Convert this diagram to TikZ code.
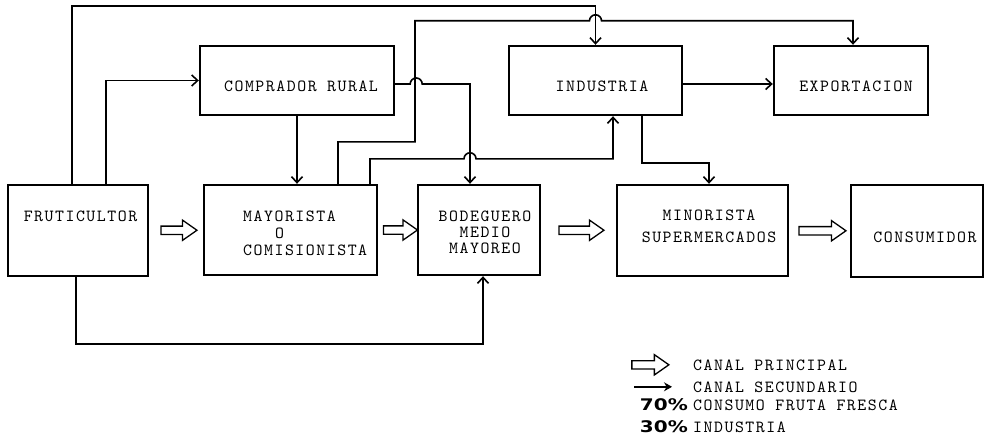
\documentclass[tikz,border=0pt]{standalone}
\usepackage{fontspec}
\newfontfamily\pctfont[FakeStretch=1.25]{DejaVu Sans}
\newfontfamily\typew[LetterSpace=9]{lmmono10-regular.otf}
\usepackage{tikz}
\usetikzlibrary{positioning,calc,arrows.meta,shapes.arrows}

\tikzset{
  box/.style={draw, line width=2.4pt, inner sep=0pt},
  txt/.style={font=\fontsize{17}{17}\selectfont\typew, inner sep=0pt},
  sec/.style={line width=1.6pt, -{Straight Barb[length=6pt,width=11pt]}},
  fat/.style={single arrow, draw, line width=1.3pt, inner sep=3.5pt, minimum height=36pt,
    single arrow head extend=6pt, single arrow tip angle=70, single arrow head indent=0pt},
  pct/.style={font=\fontsize{16}{16}\selectfont\pctfont\bfseries, inner sep=0pt},
}

\begin{document}
\begin{tikzpicture}[x=1pt,y=-1pt]
  \useasboundingbox (0,0) rectangle (991,436);
  \def\hb{91}

  % boxes, lower row
  \node[box, minimum width=140, minimum height=\hb] (fru) at (78,230.5) {};
  \node[box, minimum width=173, minimum height=90] (may) at (290.5,230) {};
  \node[box, minimum width=122, minimum height=90] (bod) at (479,230) {};
  \node[box, minimum width=171, minimum height=\hb] (min) at (702.5,230.5) {};
  \node[box, minimum width=132, minimum height=92] (con) at (917,231) {};
  % boxes, upper row
  \node[box, minimum width=194, minimum height=69] (com) at (297,80.5) {};
  \node[box, minimum width=173, minimum height=69] (ind) at (595.5,80.5) {};
  \node[box, minimum width=154, minimum height=69] (exp) at (851,80.5) {};

  % texts (base = last line)
  \node[txt, anchor=base] (frut) at ([xshift=2.5pt,yshift=9.5pt]fru.center) {FRUTICULTOR};
  \node[txt, anchor=base west, align=left] (mayt) at ([xshift=-47.5pt,yshift=-25pt]may.center)
    {MAYORISTA\\\hspace*{32pt}O\\COMISIONISTA};
  \node[txt, anchor=base, align=center] (bodt) at ([xshift=6pt,yshift=-23pt]bod.center)
    {BODEGUERO\\[-1pt]MEDIO\\[-1pt]MAYOREO};
  \node[txt, anchor=base, align=center] (mint) at ([xshift=6.5pt,yshift=-11.5pt]min.center)
    {MINORISTA\\[5pt]SUPERMERCADOS};
  \node[txt, anchor=base] (cont) at ([xshift=8pt,yshift=-11pt]con.center) {CONSUMIDOR};
  \node[txt, anchor=base] (comt) at ([xshift=4pt,yshift=-11.5pt]com.center) {COMPRADOR RURAL};
  \node[txt, anchor=base] (indt) at ([xshift=6.5pt,yshift=-11.5pt]ind.center) {INDUSTRIA};
  \node[txt, anchor=base] (expt) at ([xshift=5pt,yshift=-11.5pt]exp.center) {EXPORTACION};

  % main channel
  \node[fat] (f1) at ($(fru.east)!0.5!(may.west)$) {};
  \node[fat, minimum height=34pt] (f2) at ($(may.east)!0.5!(bod.west)$) {};
  \node[fat, minimum height=45pt] (f3) at ($(bod.east)!0.5!(min.west)$) {};
  \node[fat, minimum height=47pt] (f4) at ($(min.east)!0.5!(con.west)$) {};

  % secondary channel
  \draw[sec] ([xshift=-6pt]fru.north) -- ++(0,-178) -| (ind.north);
  \draw[sec] ([xshift=28pt]fru.north) |- (com.west);
  \draw[sec] (com.south) -- (com.south |- may.north);
  \draw[sec] ([yshift=-3.5pt]com.east) -- ++(15,0) arc (180:360:6) -| ([xshift=-9pt]bod.north);
  \draw[sec] ([xshift=47.5pt]may.north) -- ++(0,-42) -- ++(77,0) -- ++(0,-121)
    -- ($(ind.north)+(-6,-24)$) arc (180:360:6) -| ([xshift=2pt]exp.north);
  \draw[sec] ([xshift=79.5pt]may.north) -- ++(0,-25)
    -- ($(bod.north)+(-15,-25)$) arc (180:360:6) -| ([xshift=17.5pt]ind.south);
  \draw[sec] ([xshift=46.5pt]ind.south) -- ++(0,47) -| ([xshift=6.5pt]min.north);
  \draw[sec] ([yshift=-3.5pt]ind.east) -- ([yshift=-3.5pt]exp.west);
  \draw[sec] ([xshift=-2pt]fru.south) -- ++(0,67) -| ([xshift=4pt]bod.south);

  % legend
  \node[txt, anchor=base west] (lgp) at (693,370) {CANAL PRINCIPAL};
  \node[txt, anchor=base west] (lgs) at (693,392) {CANAL SECUNDARIO};
  \node[txt, anchor=base west] (lgc) at (693,410) {CONSUMO FRUTA FRESCA};
  \node[txt, anchor=base west] (lgi) at (693,432) {INDUSTRIA};
  \node[fat, minimum height=37pt, left=23pt of lgp.west] (lgf) {};
  \coordinate[left=21pt of lgs.west] (lgsb);
  \coordinate[left=38pt of lgsb] (lgsa);
  \draw[sec, -{Stealth[length=8pt,width=9pt]}] (lgsa) -- (lgsb);
  \node[pct, anchor=base east] (p70) at ([xshift=-5pt]lgc.base west) {70\%};
  \node[pct, anchor=base east] (p30) at ([xshift=-5pt]lgi.base west) {30\%};
\end{tikzpicture}
\end{document}
